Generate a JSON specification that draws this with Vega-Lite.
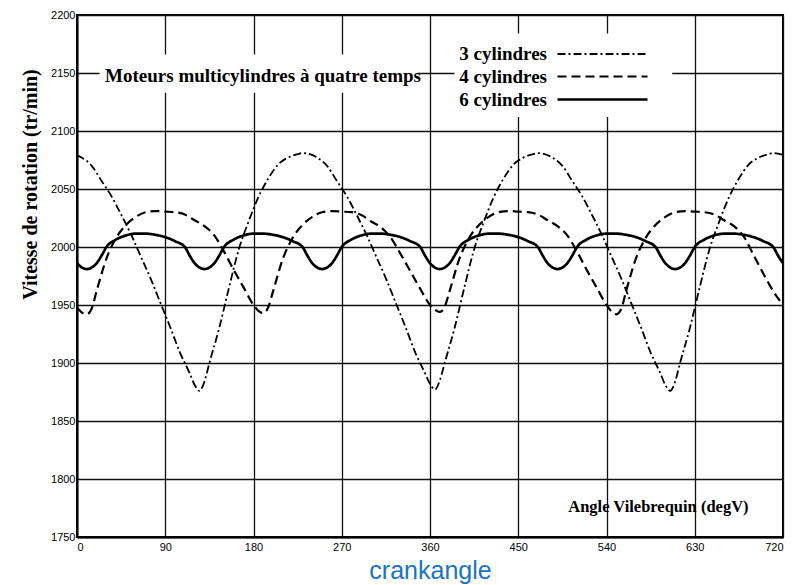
{
  "$schema": "https://vega.github.io/schema/vega-lite/v6.json",
  "width": 706,
  "height": 522,
  "autosize": {"type": "none"},
  "padding": {"left": 77, "top": 15, "right": 11, "bottom": 48},
  "background": "white",
  "config": {
    "view": {"stroke": "black", "strokeWidth": 2},
    "axis": {
      "grid": true,
      "gridColor": "#111111",
      "gridWidth": 1.3,
      "gridOpacity": 1,
      "domainColor": "black",
      "domainWidth": 2,
      "ticks": false,
      "labelFont": "Liberation Sans",
      "labelFontSize": 11,
      "labelColor": "black"
    }
  },
  "layer": [
    {
      "data": {"values": [{}]},
      "mark": {"type": "rect", "fill": "white"},
      "encoding": {
        "x": {"datum": 23},
        "x2": {"datum": 347},
        "y": {"datum": 2133},
        "y2": {"datum": 2166}
      }
    },
    {
      "data": {"values": [{}]},
      "mark": {"type": "rect", "fill": "white"},
      "encoding": {
        "x": {"datum": 385},
        "x2": {"datum": 607},
        "y": {"datum": 2112},
        "y2": {"datum": 2184}
      }
    },
    {
      "data": {"values": [
        {"a":0,"v":1986,"s":"6 cylindres"},{"a":5,"v":1982.3,"s":"6 cylindres"},{"a":10,"v":1981,"s":"6 cylindres"},{"a":15,"v":1982.3,"s":"6 cylindres"},{"a":20,"v":1986,"s":"6 cylindres"},{"a":25,"v":1992.5,"s":"6 cylindres"},{"a":30,"v":2000,"s":"6 cylindres"},{"a":40,"v":2006.5,"s":"6 cylindres"},{"a":50,"v":2010,"s":"6 cylindres"},{"a":60,"v":2011.5,"s":"6 cylindres"},{"a":70,"v":2011.5,"s":"6 cylindres"},{"a":80,"v":2010.5,"s":"6 cylindres"},{"a":90,"v":2008.5,"s":"6 cylindres"},{"a":100,"v":2005,"s":"6 cylindres"},{"a":110,"v":2000,"s":"6 cylindres"},{"a":115,"v":1992.5,"s":"6 cylindres"},
        {"a":120,"v":1986,"s":"6 cylindres"},{"a":125,"v":1982.3,"s":"6 cylindres"},{"a":130,"v":1981,"s":"6 cylindres"},{"a":135,"v":1982.3,"s":"6 cylindres"},{"a":140,"v":1986,"s":"6 cylindres"},{"a":145,"v":1992.5,"s":"6 cylindres"},{"a":150,"v":2000,"s":"6 cylindres"},{"a":160,"v":2006.5,"s":"6 cylindres"},{"a":170,"v":2010,"s":"6 cylindres"},{"a":180,"v":2011.5,"s":"6 cylindres"},{"a":190,"v":2011.5,"s":"6 cylindres"},{"a":200,"v":2010.5,"s":"6 cylindres"},{"a":210,"v":2008.5,"s":"6 cylindres"},{"a":220,"v":2005,"s":"6 cylindres"},{"a":230,"v":2000,"s":"6 cylindres"},{"a":235,"v":1992.5,"s":"6 cylindres"},
        {"a":240,"v":1986,"s":"6 cylindres"},{"a":245,"v":1982.3,"s":"6 cylindres"},{"a":250,"v":1981,"s":"6 cylindres"},{"a":255,"v":1982.3,"s":"6 cylindres"},{"a":260,"v":1986,"s":"6 cylindres"},{"a":265,"v":1992.5,"s":"6 cylindres"},{"a":270,"v":2000,"s":"6 cylindres"},{"a":280,"v":2006.5,"s":"6 cylindres"},{"a":290,"v":2010,"s":"6 cylindres"},{"a":300,"v":2011.5,"s":"6 cylindres"},{"a":310,"v":2011.5,"s":"6 cylindres"},{"a":320,"v":2010.5,"s":"6 cylindres"},{"a":330,"v":2008.5,"s":"6 cylindres"},{"a":340,"v":2005,"s":"6 cylindres"},{"a":350,"v":2000,"s":"6 cylindres"},{"a":355,"v":1992.5,"s":"6 cylindres"},
        {"a":360,"v":1986,"s":"6 cylindres"},{"a":365,"v":1982.3,"s":"6 cylindres"},{"a":370,"v":1981,"s":"6 cylindres"},{"a":375,"v":1982.3,"s":"6 cylindres"},{"a":380,"v":1986,"s":"6 cylindres"},{"a":385,"v":1992.5,"s":"6 cylindres"},{"a":390,"v":2000,"s":"6 cylindres"},{"a":400,"v":2006.5,"s":"6 cylindres"},{"a":410,"v":2010,"s":"6 cylindres"},{"a":420,"v":2011.5,"s":"6 cylindres"},{"a":430,"v":2011.5,"s":"6 cylindres"},{"a":440,"v":2010.5,"s":"6 cylindres"},{"a":450,"v":2008.5,"s":"6 cylindres"},{"a":460,"v":2005,"s":"6 cylindres"},{"a":470,"v":2000,"s":"6 cylindres"},{"a":475,"v":1992.5,"s":"6 cylindres"},
        {"a":480,"v":1986,"s":"6 cylindres"},{"a":485,"v":1982.3,"s":"6 cylindres"},{"a":490,"v":1981,"s":"6 cylindres"},{"a":495,"v":1982.3,"s":"6 cylindres"},{"a":500,"v":1986,"s":"6 cylindres"},{"a":505,"v":1992.5,"s":"6 cylindres"},{"a":510,"v":2000,"s":"6 cylindres"},{"a":520,"v":2006.5,"s":"6 cylindres"},{"a":530,"v":2010,"s":"6 cylindres"},{"a":540,"v":2011.5,"s":"6 cylindres"},{"a":550,"v":2011.5,"s":"6 cylindres"},{"a":560,"v":2010.5,"s":"6 cylindres"},{"a":570,"v":2008.5,"s":"6 cylindres"},{"a":580,"v":2005,"s":"6 cylindres"},{"a":590,"v":2000,"s":"6 cylindres"},{"a":595,"v":1992.5,"s":"6 cylindres"},
        {"a":600,"v":1986,"s":"6 cylindres"},{"a":605,"v":1982.3,"s":"6 cylindres"},{"a":610,"v":1981,"s":"6 cylindres"},{"a":615,"v":1982.3,"s":"6 cylindres"},{"a":620,"v":1986,"s":"6 cylindres"},{"a":625,"v":1992.5,"s":"6 cylindres"},{"a":630,"v":2000,"s":"6 cylindres"},{"a":640,"v":2006.5,"s":"6 cylindres"},{"a":650,"v":2010,"s":"6 cylindres"},{"a":660,"v":2011.5,"s":"6 cylindres"},{"a":670,"v":2011.5,"s":"6 cylindres"},{"a":680,"v":2010.5,"s":"6 cylindres"},{"a":690,"v":2008.5,"s":"6 cylindres"},{"a":700,"v":2005,"s":"6 cylindres"},{"a":710,"v":2000,"s":"6 cylindres"},{"a":715,"v":1992.5,"s":"6 cylindres"},
        {"a":720,"v":1986,"s":"6 cylindres"},

        {"a":0,"v":1948,"s":"4 cylindres"},{"a":5,"v":1943.5,"s":"4 cylindres"},{"a":10,"v":1942,"s":"4 cylindres"},{"a":15,"v":1947,"s":"4 cylindres"},{"a":20,"v":1962,"s":"4 cylindres"},{"a":30,"v":1990,"s":"4 cylindres"},{"a":40,"v":2008,"s":"4 cylindres"},{"a":50,"v":2019,"s":"4 cylindres"},{"a":60,"v":2026,"s":"4 cylindres"},{"a":70,"v":2030,"s":"4 cylindres"},{"a":80,"v":2031,"s":"4 cylindres"},{"a":90,"v":2030.5,"s":"4 cylindres"},{"a":100,"v":2030,"s":"4 cylindres"},{"a":110,"v":2028,"s":"4 cylindres"},{"a":120,"v":2023,"s":"4 cylindres"},{"a":130,"v":2018,"s":"4 cylindres"},{"a":140,"v":2010,"s":"4 cylindres"},{"a":150,"v":1996,"s":"4 cylindres"},{"a":160,"v":1980,"s":"4 cylindres"},{"a":170,"v":1965,"s":"4 cylindres"},
        {"a":180,"v":1950,"s":"4 cylindres"},{"a":185,"v":1945,"s":"4 cylindres"},{"a":190,"v":1943,"s":"4 cylindres"},{"a":195,"v":1948,"s":"4 cylindres"},{"a":200,"v":1962,"s":"4 cylindres"},{"a":210,"v":1990,"s":"4 cylindres"},{"a":220,"v":2008,"s":"4 cylindres"},{"a":230,"v":2019,"s":"4 cylindres"},{"a":240,"v":2026,"s":"4 cylindres"},{"a":250,"v":2030,"s":"4 cylindres"},{"a":260,"v":2031,"s":"4 cylindres"},{"a":270,"v":2030.5,"s":"4 cylindres"},{"a":280,"v":2030,"s":"4 cylindres"},{"a":290,"v":2027.5,"s":"4 cylindres"},{"a":300,"v":2022,"s":"4 cylindres"},{"a":310,"v":2017,"s":"4 cylindres"},{"a":320,"v":2008,"s":"4 cylindres"},{"a":330,"v":1994,"s":"4 cylindres"},{"a":340,"v":1979,"s":"4 cylindres"},{"a":350,"v":1964,"s":"4 cylindres"},
        {"a":360,"v":1950,"s":"4 cylindres"},{"a":365,"v":1946,"s":"4 cylindres"},{"a":370,"v":1944,"s":"4 cylindres"},{"a":375,"v":1948.5,"s":"4 cylindres"},{"a":380,"v":1962,"s":"4 cylindres"},{"a":390,"v":1990,"s":"4 cylindres"},{"a":400,"v":2008,"s":"4 cylindres"},{"a":410,"v":2019,"s":"4 cylindres"},{"a":420,"v":2026,"s":"4 cylindres"},{"a":430,"v":2030,"s":"4 cylindres"},{"a":440,"v":2031,"s":"4 cylindres"},{"a":450,"v":2030.5,"s":"4 cylindres"},{"a":460,"v":2030,"s":"4 cylindres"},{"a":470,"v":2028,"s":"4 cylindres"},{"a":480,"v":2023,"s":"4 cylindres"},{"a":490,"v":2018,"s":"4 cylindres"},{"a":500,"v":2010,"s":"4 cylindres"},{"a":510,"v":1996,"s":"4 cylindres"},{"a":520,"v":1980,"s":"4 cylindres"},{"a":530,"v":1965,"s":"4 cylindres"},
        {"a":540,"v":1950,"s":"4 cylindres"},{"a":545,"v":1944.5,"s":"4 cylindres"},{"a":550,"v":1942,"s":"4 cylindres"},{"a":555,"v":1946.5,"s":"4 cylindres"},{"a":560,"v":1962,"s":"4 cylindres"},{"a":570,"v":1990,"s":"4 cylindres"},{"a":580,"v":2008,"s":"4 cylindres"},{"a":590,"v":2019,"s":"4 cylindres"},{"a":600,"v":2026,"s":"4 cylindres"},{"a":610,"v":2030,"s":"4 cylindres"},{"a":620,"v":2031,"s":"4 cylindres"},{"a":630,"v":2030.5,"s":"4 cylindres"},{"a":640,"v":2030,"s":"4 cylindres"},{"a":650,"v":2028,"s":"4 cylindres"},{"a":660,"v":2023,"s":"4 cylindres"},{"a":670,"v":2018,"s":"4 cylindres"},{"a":680,"v":2009,"s":"4 cylindres"},{"a":690,"v":1993,"s":"4 cylindres"},{"a":700,"v":1977,"s":"4 cylindres"},{"a":710,"v":1962,"s":"4 cylindres"},
        {"a":720,"v":1950,"s":"4 cylindres"},

        {"a":0,"v":2079,"s":"3 cylindres"},{"a":5,"v":2077,"s":"3 cylindres"},{"a":15,"v":2070,"s":"3 cylindres"},{"a":25,"v":2057,"s":"3 cylindres"},{"a":35,"v":2044,"s":"3 cylindres"},{"a":45,"v":2028,"s":"3 cylindres"},{"a":55,"v":2011,"s":"3 cylindres"},{"a":65,"v":1992,"s":"3 cylindres"},{"a":75,"v":1973,"s":"3 cylindres"},{"a":85,"v":1952,"s":"3 cylindres"},{"a":95,"v":1931,"s":"3 cylindres"},{"a":105,"v":1909,"s":"3 cylindres"},{"a":115,"v":1891,"s":"3 cylindres"},{"a":120,"v":1881,"s":"3 cylindres"},{"a":125,"v":1876,"s":"3 cylindres"},{"a":130,"v":1884,"s":"3 cylindres"},{"a":135,"v":1900,"s":"3 cylindres"},{"a":145,"v":1930,"s":"3 cylindres"},{"a":155,"v":1965,"s":"3 cylindres"},{"a":165,"v":1998,"s":"3 cylindres"},{"a":175,"v":2022,"s":"3 cylindres"},{"a":185,"v":2043,"s":"3 cylindres"},{"a":195,"v":2059,"s":"3 cylindres"},{"a":205,"v":2071,"s":"3 cylindres"},{"a":215,"v":2077,"s":"3 cylindres"},{"a":225,"v":2080,"s":"3 cylindres"},{"a":230,"v":2081,"s":"3 cylindres"},{"a":235,"v":2080.5,"s":"3 cylindres"},
        {"a":245,"v":2077,"s":"3 cylindres"},{"a":255,"v":2070,"s":"3 cylindres"},{"a":265,"v":2057,"s":"3 cylindres"},{"a":275,"v":2044,"s":"3 cylindres"},{"a":285,"v":2028,"s":"3 cylindres"},{"a":295,"v":2011,"s":"3 cylindres"},{"a":305,"v":1992,"s":"3 cylindres"},{"a":315,"v":1973,"s":"3 cylindres"},{"a":325,"v":1952,"s":"3 cylindres"},{"a":335,"v":1931,"s":"3 cylindres"},{"a":345,"v":1909,"s":"3 cylindres"},{"a":355,"v":1891,"s":"3 cylindres"},{"a":360,"v":1882,"s":"3 cylindres"},{"a":365,"v":1877,"s":"3 cylindres"},{"a":370,"v":1885,"s":"3 cylindres"},{"a":375,"v":1900,"s":"3 cylindres"},{"a":385,"v":1930,"s":"3 cylindres"},{"a":395,"v":1965,"s":"3 cylindres"},{"a":405,"v":1998,"s":"3 cylindres"},{"a":415,"v":2022,"s":"3 cylindres"},{"a":425,"v":2043,"s":"3 cylindres"},{"a":435,"v":2059,"s":"3 cylindres"},{"a":445,"v":2071,"s":"3 cylindres"},{"a":455,"v":2077,"s":"3 cylindres"},{"a":465,"v":2080,"s":"3 cylindres"},{"a":470,"v":2081,"s":"3 cylindres"},{"a":475,"v":2080.5,"s":"3 cylindres"},
        {"a":485,"v":2077,"s":"3 cylindres"},{"a":495,"v":2070,"s":"3 cylindres"},{"a":505,"v":2057,"s":"3 cylindres"},{"a":515,"v":2044,"s":"3 cylindres"},{"a":525,"v":2028,"s":"3 cylindres"},{"a":535,"v":2011,"s":"3 cylindres"},{"a":545,"v":1992,"s":"3 cylindres"},{"a":555,"v":1973,"s":"3 cylindres"},{"a":565,"v":1952,"s":"3 cylindres"},{"a":575,"v":1931,"s":"3 cylindres"},{"a":585,"v":1909,"s":"3 cylindres"},{"a":595,"v":1891,"s":"3 cylindres"},{"a":600,"v":1881,"s":"3 cylindres"},{"a":605,"v":1876,"s":"3 cylindres"},{"a":610,"v":1884,"s":"3 cylindres"},{"a":615,"v":1900,"s":"3 cylindres"},{"a":625,"v":1930,"s":"3 cylindres"},{"a":635,"v":1965,"s":"3 cylindres"},{"a":645,"v":1998,"s":"3 cylindres"},{"a":655,"v":2022,"s":"3 cylindres"},{"a":665,"v":2043,"s":"3 cylindres"},{"a":675,"v":2059,"s":"3 cylindres"},{"a":685,"v":2071,"s":"3 cylindres"},{"a":695,"v":2077,"s":"3 cylindres"},{"a":705,"v":2080,"s":"3 cylindres"},{"a":710,"v":2081,"s":"3 cylindres"},{"a":715,"v":2080.5,"s":"3 cylindres"},{"a":720,"v":2079.5,"s":"3 cylindres"}
      ]},
      "mark": {"type": "line", "color": "black", "interpolate": "monotone", "strokeCap": "butt"},
      "encoding": {
        "x": {
          "field": "a", "type": "quantitative",
          "scale": {"domain": [0, 720], "nice": false},
          "axis": {
            "values": [0, 90, 180, 270, 360, 450, 540, 630, 720],
            "title": "crankangle",
            "titleColor": "#1a73c4",
            "titleFont": "Liberation Sans",
            "titleFontSize": 25,
            "titleFontWeight": "normal",
            "titleBaseline": "alphabetic",
            "titleY": 41,
            "labelPadding": 4
          }
        },
        "y": {
          "field": "v", "type": "quantitative",
          "scale": {"domain": [1750, 2200], "nice": false, "zero": false},
          "axis": {
            "values": [1750, 1800, 1850, 1900, 1950, 2000, 2050, 2100, 2150, 2200],
            "format": "d",
            "title": "Vitesse de rotation (tr/min)",
            "titleFont": "Liberation Serif",
            "titleFontSize": 20,
            "titleFontWeight": "bold",
            "titleColor": "black",
            "titleBaseline": "alphabetic",
            "titleX": -41,
            "titleY": 169,
            "labelPadding": 2
          }
        },
        "strokeDash": {
          "field": "s", "type": "nominal",
          "scale": {"domain": ["3 cylindres", "4 cylindres", "6 cylindres"], "range": [[8, 3, 2, 3], [9, 5], [1, 0]]},
          "legend": {
            "orient": "none", "legendX": 514, "legendY": 28, "title": null,
            "symbolType": "M-4.5,0H4.5", "symbolSize": 400, "symbolStrokeColor": "black", "symbolFillColor": "transparent",
            "labelFont": "Liberation Serif", "labelFontSize": 19, "labelFontWeight": "bold", "labelColor": "black",
            "labelAlign": "right", "labelOffset": -67, "labelLimit": 300, "rowPadding": 1, "padding": 0
          }
        },
        "strokeWidth": {
          "field": "s", "type": "nominal",
          "scale": {"type": "ordinal", "domain": ["3 cylindres", "4 cylindres", "6 cylindres"], "range": [1.8, 2.2, 2.7]},
          "legend": {
            "orient": "none", "legendX": 514, "legendY": 28, "title": null,
            "symbolType": "M-4.5,0H4.5", "symbolSize": 400, "symbolStrokeColor": "black", "symbolFillColor": "transparent",
            "labelFont": "Liberation Serif", "labelFontSize": 19, "labelFontWeight": "bold", "labelColor": "black",
            "labelAlign": "right", "labelOffset": -67, "labelLimit": 300, "rowPadding": 1, "padding": 0
          }
        }
      }
    },
    {
      "data": {"values": [{}]},
      "mark": {"type": "text", "font": "Liberation Serif", "fontSize": 19, "fontWeight": "bold", "align": "left", "baseline": "middle", "color": "black"},
      "encoding": {
        "x": {"datum": 28.6},
        "y": {"datum": 2147},
        "text": {"value": "Moteurs multicylindres à quatre temps"}
      }
    },
    {
      "data": {"values": [{}]},
      "mark": {"type": "text", "font": "Liberation Serif", "fontSize": 16.5, "fontWeight": "bold", "align": "left", "baseline": "middle", "color": "black"},
      "encoding": {
        "x": {"datum": 501},
        "y": {"datum": 1776},
        "text": {"value": "Angle Vilebrequin (degV)"}
      }
    }
  ]
}
